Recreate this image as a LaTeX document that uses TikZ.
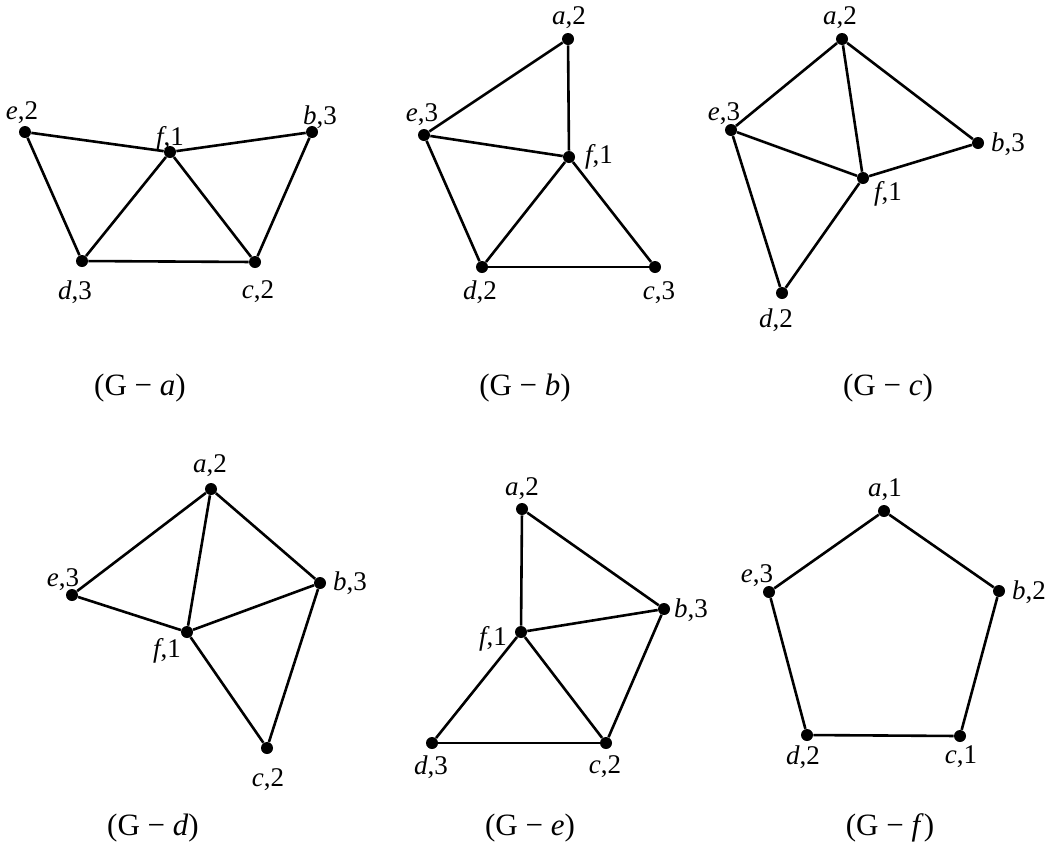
\documentclass[tikz,border=0pt]{standalone}
\usepackage{fontspec}
\setmainfont{Liberation Serif}
\tikzset{
  vertex/.style={circle,fill=black,inner sep=0pt,minimum size=6pt},
  edgeline/.style={line width=1.3pt},
  vlabel/.style={inner sep=0pt,font=\fontsize{13.5}{15}\selectfont},
  graphcaption/.style={inner sep=0pt,font=\fontsize{15.5}{17}\selectfont}
}
\begin{document}
\begin{tikzpicture}[x=0.5pt,y=-0.5pt]
  \useasboundingbox (0,0) rectangle (1052,852);
  % (G - a)
  \foreach \nm/\val/\x/\y/\lx/\ly in {e/2/25/132/22/113, f/1/170/152/170/139,
      b/3/312/132/320/117, d/3/82/261/75/292, c/2/255/262/258/292} {
    \node[vertex] (ga-\nm) at (\x,\y) {};
    \node[vlabel] (ga-\nm-lab) at (\lx,\ly) {\textit{\nm},\val};
  }
  \foreach \u/\w in {e/f,f/b,e/d,d/f,f/c,d/c,b/c}
    \draw[edgeline] (ga-\u) -- (ga-\w);
  \node[graphcaption] (ga-cap) at (140,388) {(G − \textit{a})};
  % (G - b)
  \foreach \nm/\val/\x/\y/\lx/\ly in {a/2/568/39/569/18, e/3/424/135/422/115,
      f/1/569/157/599/157, d/2/482/267/480/292, c/3/655/267/659/293} {
    \node[vertex] (gb-\nm) at (\x,\y) {};
    \node[vlabel] (gb-\nm-lab) at (\lx,\ly) {\textit{\nm},\val};
  }
  \foreach \u/\w in {a/e,a/f,e/f,e/d,d/f,f/c,d/c}
    \draw[edgeline] (gb-\u) -- (gb-\w);
  \node[graphcaption] (gb-cap) at (525,388) {(G − \textit{b})};
  % (G - c)
  \foreach \nm/\val/\x/\y/\lx/\ly in {a/2/842/39/840/18, e/3/731/130/724/114,
      b/3/978/143/1008/144, f/1/863/178/888/194, d/2/782/293/776/320} {
    \node[vertex] (gc-\nm) at (\x,\y) {};
    \node[vlabel] (gc-\nm-lab) at (\lx,\ly) {\textit{\nm},\val};
  }
  \foreach \u/\w in {a/e,a/f,a/b,e/f,f/b,e/d,d/f}
    \draw[edgeline] (gc-\u) -- (gc-\w);
  \node[graphcaption] (gc-cap) at (888,388) {(G − \textit{c})};
  % (G - d)
  \foreach \nm/\val/\x/\y/\lx/\ly in {a/2/211/489/210/466, e/3/72/595/63/580,
      b/3/320/583/350/583, f/1/187/632/167/651, c/2/267/748/268/780} {
    \node[vertex] (gd-\nm) at (\x,\y) {};
    \node[vlabel] (gd-\nm-lab) at (\lx,\ly) {\textit{\nm},\val};
  }
  \foreach \u/\w in {a/e,a/f,a/b,e/f,f/b,f/c,b/c}
    \draw[edgeline] (gd-\u) -- (gd-\w);
  \node[graphcaption] (gd-cap) at (153,828) {(G − \textit{d})};
  % (G - e)
  \foreach \nm/\val/\x/\y/\lx/\ly in {a/2/522/509/522/489, b/3/664/609/691/610,
      f/1/521/632/493/639, d/3/432/743/431/767, c/2/606/743/605/767} {
    \node[vertex] (ge-\nm) at (\x,\y) {};
    \node[vlabel] (ge-\nm-lab) at (\lx,\ly) {\textit{\nm},\val};
  }
  \foreach \u/\w in {a/f,a/b,f/b,f/d,f/c,b/c,d/c}
    \draw[edgeline] (ge-\u) -- (ge-\w);
  \node[graphcaption] (ge-cap) at (530,828) {(G − \textit{e})};
  % (G - f)
  \foreach \nm/\val/\x/\y/\lx/\ly in {a/1/884/511/885/490, e/3/769/592/757/576,
      b/2/999/591/1029/592, d/2/807/735/803/757, c/1/960/736/961/757} {
    \node[vertex] (gf-\nm) at (\x,\y) {};
    \node[vlabel] (gf-\nm-lab) at (\lx,\ly) {\textit{\nm},\val};
  }
  \foreach \u/\w in {a/e,a/b,e/d,b/c,d/c}
    \draw[edgeline] (gf-\u) -- (gf-\w);
  \node[graphcaption] (gf-cap) at (890,828) {(G − \textit{f})};
\end{tikzpicture}
\end{document}
